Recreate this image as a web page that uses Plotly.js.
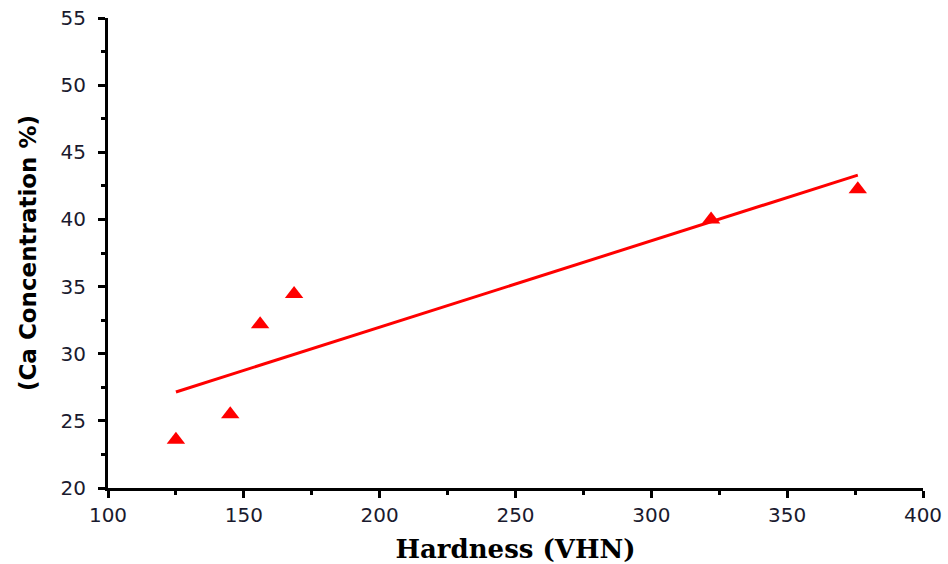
<!DOCTYPE html>
<html>
<head>
<meta charset="utf-8">
<script src="https://cdn.plot.ly/plotly-3.0.1.min.js"></script>
<style>html,body{margin:0;padding:0;background:#fff;}#chart{width:948px;height:564px;}</style>
</head>
<body>
<div id="chart"></div>
<script>
var hardness = [125, 145, 156, 168.5, 322, 376];
var caConc = [23.6, 25.5, 32.2, 34.45, 40.0, 42.25];
var fitX = [125, 376];
var fitY = [27.15, 43.3];
var xTickVals = [100, 150, 200, 250, 300, 350, 400];
var yTickVals = [20, 25, 30, 35, 40, 45, 50, 55];

var traces = [
  {x: fitX, y: fitY, mode: 'lines', line: {color: '#ff0000', width: 3}, hoverinfo: 'skip'},
  {x: hardness, y: caConc, mode: 'markers', marker: {symbol: 'triangle-up', size: 16, color: '#ff0000'}}
];

var tickFont = {family: 'DejaVu Sans, sans-serif', size: 20, color: '#1a1a2e'};
var layout = {
  width: 948, height: 564,
  margin: {l: 108, r: 25, t: 18, b: 76},
  paper_bgcolor: '#fff', plot_bgcolor: '#fff',
  showlegend: false,
  xaxis: {
    range: [100, 400], tickvals: xTickVals, ticktext: xTickVals.map(String),
    showgrid: false, zeroline: false, showline: true, linecolor: '#000', linewidth: 3,
    ticks: 'outside', ticklen: 7, tickwidth: 3, tickcolor: '#000',
    minor: {dtick: 25, tick0: 100, ticks: 'outside', ticklen: 4, tickwidth: 3, tickcolor: '#000', showgrid: false},
    tickfont: tickFont,
    title: {text: 'Hardness (VHN)', font: {family: 'DejaVu Serif, serif', size: 26, color: '#000', weight: 'bold'}, standoff: 14}
  },
  yaxis: {
    range: [20, 55], tickvals: yTickVals, ticktext: yTickVals.map(String),
    showgrid: false, zeroline: false, showline: true, linecolor: '#000', linewidth: 3,
    ticks: 'outside', ticklen: 7, tickwidth: 3, tickcolor: '#000', ticklabelstandoff: 8,
    minor: {dtick: 2.5, tick0: 20, ticks: 'outside', ticklen: 4, tickwidth: 3, tickcolor: '#000', showgrid: false},
    tickfont: tickFont,
    title: {text: '(Ca Concentration %)', font: {family: 'DejaVu Sans, sans-serif', size: 23, color: '#000', weight: 'bold'}, standoff: 18}
  }
};
Plotly.newPlot('chart', traces, layout, {displayModeBar: false, staticPlot: true});
</script>
</body>
</html>
